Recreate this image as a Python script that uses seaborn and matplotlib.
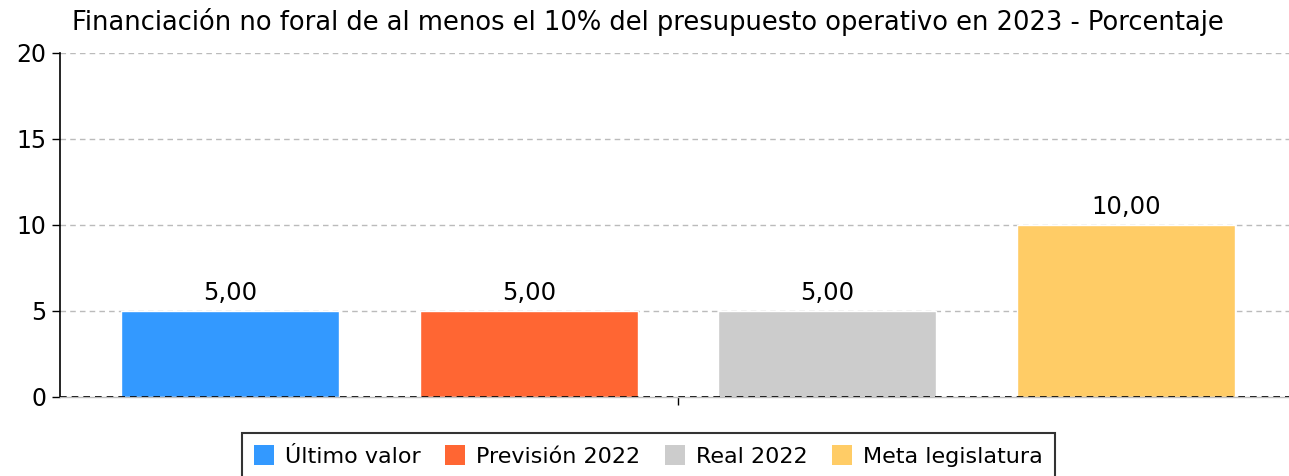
import matplotlib
matplotlib.use("Agg")
import matplotlib.pyplot as plt
import seaborn as sns
import pandas as pd
from matplotlib.patches import Patch

# Indicator data
series = ["Último valor", "Previsión 2022", "Real 2022", "Meta legislatura"]
values = [5.0, 5.0, 5.0, 10.0]
colors = ["#3399FF", "#FF6633", "#CCCCCC", "#FFCC66"]
y_ticks = [0, 5, 10, 15, 20]
title = "Financiación no foral de al menos el 10% del presupuesto operativo en 2023 - Porcentaje"

df = pd.DataFrame({"grupo": [""] * len(series), "serie": series, "valor": values})

sns.set_theme(style="white")
plt.rcParams["font.family"] = ["DejaVu Sans"]

fig = plt.figure(figsize=(12.89, 4.76), dpi=100)
ax = fig.add_axes([60 / 1289, 79 / 476, 1236 / 1289, 344 / 476])

sns.barplot(data=df, x="grupo", y="valor", hue="serie", hue_order=series,
            palette=colors, width=0.8, gap=0.27, saturation=1, legend=False, ax=ax)

ax.set_xlim(-0.414, 0.414)
ax.set_ylim(0, 20)
ax.set_yticks(y_ticks)
ax.set_yticklabels([str(t) for t in y_ticks], fontsize=17, color="black")
ax.set_xticks([0])
ax.set_xticklabels([""])
ax.set_xlabel("")
ax.set_ylabel("")

for t in y_ticks[1:]:
    ax.axhline(t, color="#BBBBBB", lw=1, ls=(0, (4, 3)), zorder=0)
ax.axhline(0, color="black", lw=1.2, ls=(0, (4, 3)), zorder=3)

for sp in ["top", "right"]:
    ax.spines[sp].set_visible(False)
ax.spines["left"].set_color("black")
ax.spines["left"].set_linewidth(1.2)
ax.spines["bottom"].set_color("#BBBBBB")
ax.spines["bottom"].set_linewidth(1)
ax.tick_params(axis="y", left=True, length=6, width=1, color="black", pad=4)
ax.tick_params(axis="x", bottom=True, length=6, width=1, color="black")

for cont in ax.containers:
    ax.bar_label(cont, labels=[f"{v:.2f}".replace(".", ",") for v in cont.datavalues],
                 fontsize=17.5, padding=4, color="black")

fig.text(0.503, 0.953, title, ha="center", va="center", fontsize=18.5, color="black")

handles = [Patch(facecolor=c, edgecolor="none") for c in colors]
leg = fig.legend(handles, series, loc="lower center", bbox_to_anchor=(0.503, -0.03),
                 ncol=4, frameon=True, fontsize=16, handlelength=0.9, handleheight=1.0,
                 handletextpad=0.5, columnspacing=1.1, borderpad=0.55, fancybox=False,
                 labelcolor="black")
leg.get_frame().set_edgecolor("black")
leg.get_frame().set_linewidth(1.5)

fig.savefig("out.png", dpi=100)
